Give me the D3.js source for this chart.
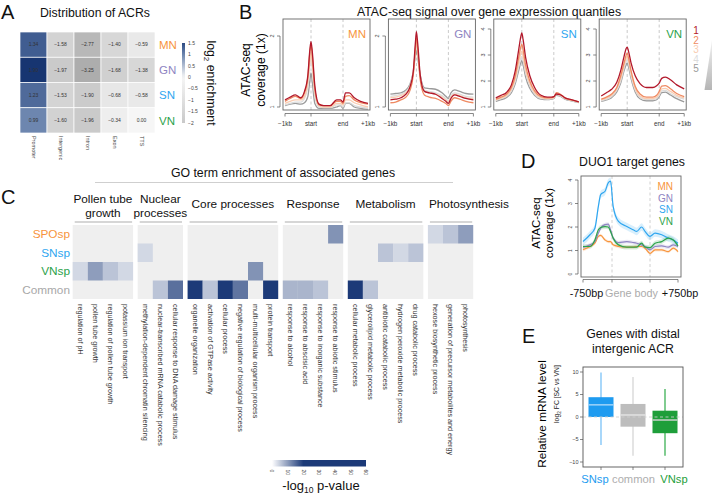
<!DOCTYPE html>
<html><head><meta charset="utf-8">
<script src="https://cdn.jsdelivr.net/npm/d3@7"></script>
<style>
body{margin:0;background:#fff}
svg{display:block;font-family:"Liberation Sans",Arial,Helvetica,sans-serif}
</style>
</head><body>
<svg id="fig" width="712" height="497"></svg>
<script>
// ---------------- DATA ----------------
// Panel A
const acrRegions = ["Promoter","Intergenic","Intron","Exon","TTS"];
const acrNuclei = ["MN","GN","SN","VN"];
const acrMN = [1.34,-1.58,-2.77,-1.40,-0.59];
const acrGN = [1.90,-1.97,-3.25,-1.68,-1.38];
const acrSN = [1.23,-1.53,-1.90,-0.68,-0.58];
const acrVN = [0.99,-1.60,-1.96,-0.34,0.00];
const acrLegendTicks = [1.5,1,0.5,0,-0.5,-1,-1.5,-2];

// Panel B  (x: -1 = -1kb, 0 = start, 1 = end, 2 = +1kb)
const quantiles = ["1","2","3","4","5"];
const profileNuclei = ["MN","GN","SN","VN"];
const profileTickLabels = ["-1kb","start","end","+1kb"];
const profilePos = [-1,-0.8,-0.6,-0.4,-0.25,-0.12,-0.04,0,0.04,0.12,0.25,0.4,0.6,0.8,0.92,1.0,1.1,1.25,1.45,1.7,2.0];
const profileMN = [
 [1.10,1.14,1.17,1.13,1.22,1.45,1.82,1.92,1.78,1.30,1.04,1.02,1.02,1.10,1.10,1.07,1.20,1.20,1.13,1.08,1.05],
 [1.08,1.12,1.15,1.12,1.20,1.42,1.78,1.88,1.72,1.25,1.03,1.02,1.02,1.08,1.08,1.05,1.15,1.16,1.10,1.06,1.04],
 [1.05,1.08,1.10,1.10,1.15,1.35,1.65,1.76,1.60,1.20,1.02,1.00,1.00,1.05,1.05,1.03,1.10,1.10,1.06,1.03,1.00],
 [1.03,1.05,1.07,1.07,1.12,1.30,1.60,1.70,1.55,1.15,1.00,0.99,0.99,1.03,1.03,1.00,1.06,1.06,1.02,1.00,0.98],
 [1.02,1.04,1.05,1.04,1.06,1.15,1.38,1.48,1.35,1.05,0.98,0.98,0.98,1.00,1.02,0.98,1.05,1.05,1.00,0.98,0.97]];
const profileGN = [
 [1.10,1.11,1.13,1.18,1.28,1.50,1.90,2.06,1.90,1.45,1.22,1.20,1.18,1.12,1.08,1.05,1.12,1.17,1.15,1.12,1.10],
 [1.06,1.07,1.10,1.14,1.23,1.45,1.82,1.97,1.82,1.38,1.17,1.14,1.12,1.08,1.05,1.02,1.08,1.13,1.11,1.08,1.06],
 [1.13,1.14,1.16,1.20,1.28,1.48,1.80,1.92,1.78,1.42,1.22,1.20,1.18,1.14,1.10,1.07,1.14,1.18,1.16,1.13,1.12],
 [1.15,1.16,1.18,1.22,1.30,1.50,1.78,1.88,1.75,1.43,1.24,1.22,1.20,1.16,1.12,1.09,1.16,1.20,1.18,1.15,1.14],
 [1.18,1.19,1.20,1.24,1.32,1.50,1.72,1.80,1.70,1.45,1.27,1.26,1.25,1.20,1.15,1.12,1.20,1.24,1.22,1.19,1.18]];
const profileSN = [
 [1.35,1.45,1.55,1.85,2.40,3.20,3.70,3.85,3.60,2.90,2.20,1.75,1.45,1.38,1.38,1.40,1.50,1.48,1.35,1.28,1.20],
 [1.30,1.38,1.48,1.75,2.20,2.90,3.30,3.42,3.20,2.60,2.00,1.62,1.40,1.35,1.36,1.38,1.55,1.50,1.35,1.27,1.20],
 [1.27,1.34,1.43,1.68,2.10,2.70,3.05,3.15,2.95,2.40,1.90,1.55,1.36,1.32,1.33,1.36,1.50,1.46,1.33,1.26,1.19],
 [1.25,1.32,1.40,1.62,2.00,2.55,2.88,2.95,2.80,2.30,1.82,1.50,1.33,1.30,1.32,1.35,1.48,1.44,1.32,1.25,1.18],
 [1.22,1.28,1.36,1.55,1.90,2.40,2.70,2.78,2.62,2.15,1.72,1.45,1.30,1.28,1.30,1.33,1.45,1.42,1.30,1.24,1.17]];
const profileVN = [
 [1.42,1.55,1.68,1.95,2.40,2.95,3.25,3.30,3.15,2.70,2.20,1.90,1.75,1.75,1.82,1.92,2.10,2.15,2.05,1.85,1.70],
 [1.30,1.38,1.50,1.75,2.20,2.70,3.00,3.07,2.90,2.40,1.80,1.50,1.38,1.38,1.45,1.60,1.80,1.82,1.70,1.52,1.40],
 [1.27,1.34,1.45,1.70,2.10,2.60,2.88,2.95,2.80,2.30,1.72,1.42,1.32,1.32,1.38,1.52,1.70,1.72,1.60,1.45,1.35],
 [1.24,1.30,1.40,1.65,2.00,2.50,2.75,2.82,2.68,2.20,1.65,1.37,1.28,1.28,1.33,1.46,1.62,1.64,1.52,1.40,1.30],
 [1.22,1.27,1.36,1.58,1.92,2.40,2.63,2.70,2.55,2.10,1.58,1.32,1.24,1.24,1.28,1.40,1.55,1.57,1.46,1.32,1.20]];
const profileYTicks = [[1,2],[1,2],[1,2,3,4],[1,2,3,4]];

// Panel C
const goRows = ["SPOsp","SNsp","VNsp","Common"];
const goGroupTitles = [["Pollen tube","growth"],["Nuclear","processes"],["Core processes"],["Response"],["Metabolism"],["Photosynthesis"]];
const goTerms = ["regulation of pH","pollen tube growth","regulation of pollen tube growth","potassium ion transport",
 "methylation-dependent chromatin silencing","nuclear-transcribed mRNA catabolic process","cellular response to DNA damage stimulus",
 "organelle organization","activation of GTPase activity","cellular process","negative regulation of biological process","multi-multicellular organism process","protein transport",
 "response to alcohol","response to abscisic acid","response to inorganic substance","response to abiotic stimulus",
 "cellular metabolic process","glycerolipid metabolic process","antibiotic catabolic process","hydrogen peroxide metabolic process","drug catabolic process",
 "hexose biosynthetic process","generation of precursor metabolites and energy","photosynthesis"];
const goTermGroup = [0,0,0,0, 1,1,1, 2,2,2,2,2,2, 3,3,3,3, 4,4,4,4,4, 5,5,5];
const goSPOsp  = [0,0,0,0, 0,0,0, 0,0,0,0,0,0, 0,0,0,11, 0,0,0,0,0, 4,6,10];
const goSNsp   = [0,0,0,0, 4,0,0, 0,0,0,0,0,0, 0,0,0,0, 0,0,6,4,6, 0,0,0];
const goVNsp   = [4,10,6,4, 0,0,0, 0,0,0,0,11,0, 0,0,0,0, 0,0,0,0,0, 0,0,0];
const goCommon = [0,0,0,0, 0,6,14.5, 55,6,50,14,0,45, 7.5,7.5,6,0, 50,6,0,0,0, 0,0,0];
const goLegendTicks = [0,10,20,30,40,50,60];

// Panel D  (x: -1 = -750bp, 0 = start, 1 = end, 2 = +750bp)
const duoNuclei = ["MN","GN","SN","VN"];
const duoPos = [-1,-0.76,-0.59,-0.47,-0.39,-0.24,-0.13,-0.05,0.03,0.17,0.39,0.56,0.65,0.78,0.87,1.0,1.18,1.42,1.65,1.83,2.0];
const duoMN = [1.03,1.17,1.31,1.60,1.64,1.45,1.38,1.38,1.24,1.17,1.14,1.14,1.17,1.17,1.10,0.88,1.03,1.03,0.95,1.10,0.95];
const duoGN = [1.14,1.24,1.38,1.74,1.95,2.10,2.12,1.88,1.53,1.34,1.38,1.34,1.31,1.24,1.17,1.03,1.17,1.20,1.14,1.24,1.17];
const duoSN = [1.38,1.67,1.95,2.88,3.38,3.52,3.88,3.95,2.88,2.24,2.02,1.88,1.81,2.00,1.81,1.60,1.74,1.67,1.53,1.45,1.31];
const duoVN = [1.17,1.17,1.45,1.88,1.98,2.02,2.00,1.81,1.53,1.24,1.14,1.14,1.14,1.31,1.14,1.12,1.31,1.38,1.53,1.45,1.20];
const duoSE = [0.07,0.08,0.16,0.1];
const duoYTicks = [0,1,2,3,4];

// Panel E
const eGroups = ["SNsp","common","VNsp"];
const eWhiskerLow = [-6.2,-8.6,-8.6];
const eQ1 = [0.0,-2.15,-3.6];
const eMedian = [2.7,0.45,-0.67];
const eQ3 = [4.4,2.9,1.4];
const eWhiskerHigh = [9.9,8.9,6.2];
const eYTicks = [10,5,0,-5,-10];

// ---------------- STYLE ----------------
const nucColor = {MN:"#F7943C", GN:"#8E84C2", SN:"#2FA6F0", VN:"#2CA24B"};
const rowColor = {SPOsp:"#F7943C", SNsp:"#2FA6F0", VNsp:"#2CA24B", Common:"#A8A8A8"};
const qColor = ["#B2182B","#EF8A62","#F9CDB2","#DCDCDC","#9A9A9A"];
const eFill = ["#1E9BF0","#BDBDBD","#1E9E3A"];
const eWhisk = ["#6FBDF6","#D2D2D2","#2DAA47"];
const eMed = ["#A9D7FA","#E4E4E4","#D6D6D6"];
const eLabelColor = ["#1E9BF0","#AEAEAE","#1E9E3A"];
const minus = s => s.replace(/-/g,"\u2212");

const svg = d3.select("#fig");
const defs = svg.append("defs");

function label(t,x,y,size,opt={}){
  return svg.append("text").attr("x",x).attr("y",y).attr("font-size",size).attr("fill",opt.fill||"#111")
    .attr("text-anchor",opt.anchor||"start").text(t);
}

// Panel letters
[["A",1,19],["B",239,19],["C",1,204],["D",521,168],["E",522,343]].forEach(d=>label(d[0],d[1],d[2],20));

// ================= PANEL A =================
label("Distribution of ACRs",95,17,12.3,{anchor:"middle"});
const acrData = [acrMN,acrGN,acrSN,acrVN];
const xA = d3.scaleBand().domain(acrRegions).range([20,155]);
const yA = d3.scaleBand().domain(acrNuclei).range([32,133]);
const colA = d3.scaleLinear().domain([-3.3,0,1,1.5,2]).range(["#acacac","#f6f6f6","#6c85ae","#2c4a83","#12306c"]).clamp(true);
const gA = svg.append("g");
acrNuclei.forEach((n,i)=>acrRegions.forEach((r,j)=>{
  const v = acrData[i][j];
  gA.append("rect").attr("x",xA(r)).attr("y",yA(n)).attr("width",xA.bandwidth()).attr("height",yA.bandwidth())
    .attr("fill",colA(v)).attr("stroke","#fff").attr("stroke-width",0.7);
  gA.append("text").attr("x",xA(r)+xA.bandwidth()/2).attr("y",yA(n)+yA.bandwidth()/2).attr("dy","0.35em")
    .attr("text-anchor","middle").attr("font-size",5).attr("fill","#333").text(minus(v.toFixed(2)));
}));
acrNuclei.forEach(n=>gA.append("text").attr("x",159).attr("y",yA(n)+yA.bandwidth()/2).attr("dy","0.36em")
  .attr("font-size",11.5).attr("fill",nucColor[n]).text(n));
acrRegions.forEach(r=>gA.append("text").attr("transform",`translate(${xA(r)+xA.bandwidth()/2},136) rotate(90)`)
  .attr("dy","0.35em").attr("font-size",5.5).attr("fill","#444").text(r));
// colorbar
const yCbA = d3.scaleLinear().domain([-2,1.5]).range([123,43]);
const gradA = defs.append("linearGradient").attr("id","gA").attr("x1",0).attr("y1",1).attr("x2",0).attr("y2",0);
d3.range(0,1.0001,0.05).forEach(t=>gradA.append("stop").attr("offset",t).attr("stop-color",colA(-2+3.5*t)));
gA.append("rect").attr("x",182).attr("y",43).attr("width",3).attr("height",80).attr("fill","url(#gA)");
acrLegendTicks.forEach(t=>gA.append("text").attr("x",188).attr("y",yCbA(t)).attr("dy","0.35em")
  .attr("font-size",5).attr("fill","#444").text(minus(String(t))));
const lgA = gA.append("text").attr("transform","translate(207,83) rotate(90)").attr("text-anchor","middle")
  .attr("font-size",12.3).attr("fill","#111");
lgA.append("tspan").text("log");
lgA.append("tspan").attr("font-size",8).attr("dy",3).text("2");
lgA.append("tspan").attr("dy",-3).text(" enrichment");

// ================= PANEL B =================
label("ATAC-seq signal over gene expression quantiles",489,16,12.3,{anchor:"middle"});
svg.append("text").attr("transform","translate(250,70) rotate(-90)").attr("text-anchor","middle").attr("font-size",12).text("ATAC-seq");
svg.append("text").attr("transform","translate(265,70) rotate(-90)").attr("text-anchor","middle").attr("font-size",12).text("coverage (1x)");
const profileData = [profileMN,profileGN,profileSN,profileVN];
profileNuclei.forEach((n,i)=>{
  const left = 283 + i*105.4, right = left+87, top = 19, bottom = 110;
  const x = d3.scaleLinear().domain([-1,0,1,2]).range([left+2,left+28,left+60,left+85]);
  const ticks = profileYTicks[i];
  const yMax = ticks[ticks.length-1];
  const y = d3.scaleLinear().domain([1,yMax]).range([107, yMax===2?36:29]);
  const g = svg.append("g");
  [0,1].forEach(p=>g.append("line").attr("x1",x(p)).attr("x2",x(p)).attr("y1",top).attr("y2",bottom)
    .attr("stroke","#bdbdbd").attr("stroke-width",0.8).attr("stroke-dasharray","3,2.5"));
  const line = d3.line().x((d,k)=>x(profilePos[k])).y(d=>y(d)).curve(d3.curveMonotoneX);
  g.append("defs").append("clipPath").attr("id","clipB"+i).append("rect").attr("x",left).attr("y",top).attr("width",87).attr("height",bottom-top);
  const lg = g.append("g").attr("clip-path",`url(#clipB${i})`);
  for(let q=4;q>=0;q--){
    lg.append("path").attr("d",line(profileData[i][q])).attr("fill","none").attr("stroke",qColor[q]).attr("stroke-width",1.3);
  }
  g.append("rect").attr("x",left).attr("y",top).attr("width",87).attr("height",bottom-top)
    .attr("fill","none").attr("stroke","#666").attr("stroke-width",0.9);
  g.append("text").attr("x",right-4).attr("y",38).attr("text-anchor","end").attr("font-size",11.5).attr("fill",nucColor[n]).text(n);
  g.append("line").attr("x1",left-3).attr("x2",left-3).attr("y1",y(1)).attr("y2",y(yMax)).attr("stroke","#555").attr("stroke-width",0.7);
  ticks.forEach(t=>{
    g.append("line").attr("x1",left-3).attr("x2",left-6).attr("y1",y(t)).attr("y2",y(t)).attr("stroke","#555").attr("stroke-width",0.7);
    g.append("text").attr("transform",`translate(${left-9},${y(t)}) rotate(-90)`).attr("text-anchor","middle")
      .attr("font-size",5.5).attr("fill","#444").text(t);
  });
  g.append("line").attr("x1",x(-1)).attr("x2",x(2)).attr("y1",113.5).attr("y2",113.5).attr("stroke","#555").attr("stroke-width",0.7);
  [-1,0,1,2].forEach((p,k)=>{
    g.append("line").attr("x1",x(p)).attr("x2",x(p)).attr("y1",113.5).attr("y2",116.5).attr("stroke","#555").attr("stroke-width",0.7);
    g.append("text").attr("x",x(p)).attr("y",126).attr("text-anchor","middle").attr("font-size",6.3).attr("fill","#333")
      .text(minus(profileTickLabels[k]));
  });
});
quantiles.forEach((q,k)=>label(q,696,34+k*9.6,10,{anchor:"middle",fill:qColor[k]}));
const gradW = defs.append("linearGradient").attr("id","gW").attr("x1",0).attr("y1",0).attr("x2",0).attr("y2",1);
gradW.append("stop").attr("offset",0).attr("stop-color","#f2f2f2");
gradW.append("stop").attr("offset",1).attr("stop-color","#b5b5b5");
svg.append("path").attr("d","M712,40 L712,90 L704.5,90 Z").attr("fill","url(#gW)");

// ================= PANEL C =================
label("GO term enrichment of associated genes",283,177,12.3,{anchor:"middle"});
svg.append("line").attr("x1",95).attr("x2",453).attr("y1",182.5).attr("y2",182.5).attr("stroke","#cfcfcf").attr("stroke-width",1);
const goData = [goSPOsp,goSNsp,goVNsp,goCommon];
const yC = d3.scaleBand().domain(goRows).range([225,299]);
const colC = d3.scaleLinear().domain([0,20]).range(["#ffffff","#1c3a78"]).interpolate(d3.interpolateRgb).clamp(true);
const cw = 15.1, gap = 4.6;
let cx = 72.7;
const gC = svg.append("g");
goGroupTitles.forEach((title,gi)=>{
  const idx = goTerms.map((t,k)=>k).filter(k=>goTermGroup[k]===gi);
  const x0 = cx, x1 = cx + idx.length*cw; cx = x1 + gap;
  const xb = d3.scaleBand().domain(idx).range([x0,x1]);
  gC.append("rect").attr("x",x0).attr("y",225).attr("width",x1-x0).attr("height",74).attr("fill","#efefef");
  idx.forEach(k=>{
    goRows.forEach((r,ri)=>{
      const v = goData[ri][k];
      if(v>0) gC.append("rect").attr("x",xb(k)).attr("y",yC(r)).attr("width",xb.bandwidth()).attr("height",yC.bandwidth()).attr("fill",colC(v));
    });
    gC.append("text").attr("transform",`translate(${xb(k)+xb.bandwidth()/2},304) rotate(90)`).attr("dy","0.35em")
      .attr("font-size",7.2).attr("fill","#333").text(goTerms[k]);
  });
  gC.append("line").attr("x1",x0+2).attr("x2",x1-1).attr("y1",222).attr("y2",222).attr("stroke","#c8c8c8").attr("stroke-width",1.6);
  if(title.length===2){
    title.forEach((t,li)=>gC.append("text").attr("x",(x0+x1)/2).attr("y",203+li*13.5).attr("text-anchor","middle").attr("font-size",11.8).attr("fill","#111").text(t));
  } else if(gi===goGroupTitles.length-1){
    gC.append("text").attr("x",x0+1).attr("y",208).attr("font-size",11.8).attr("fill","#111").text(title[0]);
  } else {
    gC.append("text").attr("x",(x0+x1)/2).attr("y",208).attr("text-anchor","middle").attr("font-size",11.8).attr("fill","#111").text(title[0]);
  }
});
goRows.forEach(r=>gC.append("text").attr("x",70).attr("y",yC(r)+yC.bandwidth()/2).attr("dy","0.36em").attr("text-anchor","end")
  .attr("font-size",11.8).attr("fill",rowColor[r]).text(r));
const xCbC = d3.scaleLinear().domain([0,60]).range([272,366]);
const gradC = defs.append("linearGradient").attr("id","gC");
d3.range(0,61,1).forEach(v=>gradC.append("stop").attr("offset",v/60).attr("stop-color",colC(v)));
gC.append("rect").attr("x",xCbC(0)).attr("y",460).attr("width",xCbC(60)-xCbC(0)).attr("height",6.5).attr("fill","url(#gC)");
goLegendTicks.forEach(t=>gC.append("text").attr("transform",`translate(${xCbC(t)},469.5) rotate(90)`).attr("dy","0.35em")
  .attr("font-size",5).attr("fill","#444").text(t));
const lgC = gC.append("text").attr("x",321).attr("y",490).attr("text-anchor","middle").attr("font-size",13).attr("fill","#111");
lgC.append("tspan").text("-log");
lgC.append("tspan").attr("font-size",8.5).attr("dy",3).text("10");
lgC.append("tspan").attr("dy",-3).text(" p-value");

// ================= PANEL D =================
label("DUO1 target genes",632,166,12.3,{anchor:"middle"});
svg.append("text").attr("transform","translate(540,223) rotate(-90)").attr("text-anchor","middle").attr("font-size",11.5).text("ATAC-seq");
svg.append("text").attr("transform","translate(553,223) rotate(-90)").attr("text-anchor","middle").attr("font-size",11.5).text("coverage (1x)");
const xD = d3.scaleLinear().domain([-1,0,1,2]).range([583,612,650,678]);
const yD = d3.scaleLinear().domain([0,4]).range([274,180]);
const gD = svg.append("g");
[0,1].forEach(p=>gD.append("line").attr("x1",xD(p)).attr("x2",xD(p)).attr("y1",176).attr("y2",277)
  .attr("stroke","#c4c4c4").attr("stroke-width",0.8).attr("stroke-dasharray","3,2.5"));
const duoData = [duoMN,duoGN,duoSN,duoVN];
duoNuclei.forEach((n,i)=>{
  const area = d3.area().x((d,k)=>xD(duoPos[k])).y0(d=>yD(d-duoSE[i])).y1(d=>yD(d+duoSE[i])).curve(d3.curveMonotoneX);
  gD.append("path").attr("d",area(duoData[i])).attr("fill",nucColor[n]).attr("opacity",0.18);
});
duoNuclei.forEach((n,i)=>{
  const line = d3.line().x((d,k)=>xD(duoPos[k])).y(d=>yD(d)).curve(d3.curveMonotoneX);
  gD.append("path").attr("d",line(duoData[i])).attr("fill","none").attr("stroke",nucColor[n]).attr("stroke-width",1.2);
});
gD.append("rect").attr("x",581).attr("y",176).attr("width",100).attr("height",101).attr("fill","none").attr("stroke","#666").attr("stroke-width",0.9);
gD.append("line").attr("x1",578).attr("x2",578).attr("y1",yD(0)).attr("y2",yD(4)).attr("stroke","#555").attr("stroke-width",0.7);
duoYTicks.forEach(t=>{
  gD.append("line").attr("x1",578).attr("x2",575).attr("y1",yD(t)).attr("y2",yD(t)).attr("stroke","#555").attr("stroke-width",0.7);
  gD.append("text").attr("transform",`translate(572,${yD(t)}) rotate(-90)`).attr("text-anchor","middle").attr("font-size",5).attr("fill","#444").text(t);
});
gD.append("line").attr("x1",xD(-1)).attr("x2",xD(2)).attr("y1",279.5).attr("y2",279.5).attr("stroke","#555").attr("stroke-width",0.7);
[-1,0,1,2].forEach(p=>gD.append("line").attr("x1",xD(p)).attr("x2",xD(p)).attr("y1",279.5).attr("y2",282.5).attr("stroke","#555").attr("stroke-width",0.7));
label("-750bp",586.5,297,10.8,{anchor:"middle"});
label("Gene body",631.5,297,10.8,{anchor:"middle",fill:"#ababab"});
label("+750bp",680,297,10.8,{anchor:"middle"});
duoNuclei.forEach((n,i)=>label(n,673,190+i*11.7,10,{anchor:"end",fill:nucColor[n]}));

// ================= PANEL E =================
label("Genes with distal",633,338,12.3,{anchor:"middle"});
label("intergenic ACR",633,353,12.3,{anchor:"middle"});
svg.append("text").attr("transform","translate(546,414) rotate(-90)").attr("text-anchor","middle").attr("font-size",11.8).text("Relative mRNA level");
const yl2 = svg.append("text").attr("transform","translate(559,394) rotate(-90)").attr("text-anchor","middle").attr("font-size",6.8).attr("fill","#222");
yl2.append("tspan").text("log");
yl2.append("tspan").attr("font-size",4.8).attr("dy",2).text("2");
yl2.append("tspan").attr("dy",-2).text(" FC [SC vs VN]");
const xE = d3.scalePoint().domain(eGroups).range([601,665]);
const yE = d3.scaleLinear().domain([-10,10]).range([462,372]);
const gE = svg.append("g");
eGroups.forEach((c,i)=>{
  const cxE = xE(c), bw = 25;
  gE.append("line").attr("x1",cxE).attr("x2",cxE).attr("y1",yE(eWhiskerLow[i])).attr("y2",yE(eWhiskerHigh[i])).attr("stroke",eWhisk[i]).attr("stroke-width",1.2);
  gE.append("rect").attr("x",cxE-bw/2).attr("y",yE(eQ3[i])).attr("width",bw).attr("height",yE(eQ1[i])-yE(eQ3[i])).attr("fill",eFill[i]);
  gE.append("line").attr("x1",cxE-bw/2).attr("x2",cxE+bw/2).attr("y1",yE(eMedian[i])).attr("y2",yE(eMedian[i])).attr("stroke",eMed[i]).attr("stroke-width",1.4);
});
gE.append("line").attr("x1",583).attr("x2",683).attr("y1",yE(0)).attr("y2",yE(0)).attr("stroke","#cfcfcf").attr("stroke-opacity",0.85).attr("stroke-width",1).attr("stroke-dasharray","3,2.5");
gE.append("rect").attr("x",583).attr("y",367).attr("width",100).attr("height",100).attr("fill","none").attr("stroke","#555").attr("stroke-width",0.9);
eYTicks.forEach(t=>{
  gE.append("line").attr("x1",583).attr("x2",580).attr("y1",yE(t)).attr("y2",yE(t)).attr("stroke","#555").attr("stroke-width",0.7);
  gE.append("text").attr("x",578.5).attr("y",yE(t)).attr("dy","0.35em").attr("text-anchor","end").attr("font-size",5.5).attr("fill","#444").text(minus(String(t)));
});
eGroups.forEach((c,i)=>{
  gE.append("line").attr("x1",xE(c)).attr("x2",xE(c)).attr("y1",467).attr("y2",470).attr("stroke","#555").attr("stroke-width",0.7);
  const dx = [-6,0.5,9][i];
  gE.append("text").attr("x",xE(c)+dx).attr("y",483).attr("text-anchor","middle").attr("font-size",11.2).attr("fill",eLabelColor[i]).text(c);
});
</script>
</body></html>
